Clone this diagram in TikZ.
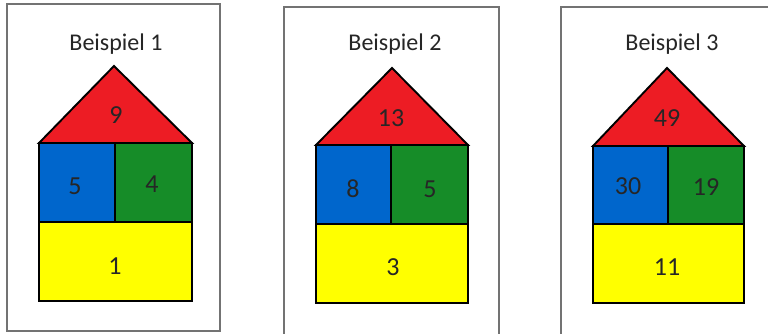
\documentclass[tikz,border=0pt]{standalone}
\usepackage{fontspec}
\setmainfont{Carlito}
\definecolor{roofred}{RGB}{237,28,36}
\definecolor{wallblue}{RGB}{0,102,204}
\definecolor{wallgreen}{RGB}{22,140,40}
\definecolor{floory}{RGB}{255,255,0}
\begin{document}
\begin{tikzpicture}[x=1pt,y=1pt,
	card/.style={draw=gray!90!black,line width=1.3pt},
	part/.style={draw=black,line width=1.9pt,line join=miter},
	title/.style={font=\fontsize{24}{28}\selectfont,text=black!85},
	num/.style={font=\fontsize{26}{30}\selectfont,text=black!85}]
		\useasboundingbox (0,0) rectangle (768,334);
		\clip (0,0) rectangle (768,334);
		\fill[white] (0,0) rectangle (768,334);
		
		% Beispiel 1
		\draw[card] (7,330) rectangle (220,3);
		\filldraw[part,fill=roofred] (39,191) -- (114,268) -- (192,191) -- cycle;
		\filldraw[part,fill=wallblue] (39,191) rectangle (115,112);
		\filldraw[part,fill=wallgreen] (115,191) rectangle (192,112);
		\filldraw[part,fill=floory] (39,112) rectangle (192,33);
		\node[title] (title1) at (116,290) {Beispiel 1};
		\node[num] (roof1) at (116,219) {9};
		\node[num] (left1) at (75,148) {5};
		\node[num] (right1) at (152,150) {4};
		\node[num] (floor1) at (115,68) {1};
		
		% Beispiel 2
		\draw[card] (284,327) rectangle (499,-2);
		\filldraw[part,fill=roofred] (316,189) -- (392,266) -- (468,189) -- cycle;
		\filldraw[part,fill=wallblue] (316,189) rectangle (391,110);
		\filldraw[part,fill=wallgreen] (391,189) rectangle (468,110);
		\filldraw[part,fill=floory] (316,110) rectangle (468,31);
		\node[title] (title2) at (395,290) {Beispiel 2};
		\node[num] (roof2) at (391,216) {13};
		\node[num] (left2) at (353,145) {8};
		\node[num] (right2) at (430,145) {5};
		\node[num] (floor2) at (393,67) {3};
		
		% Beispiel 3
		\draw[card] (561,327) rectangle (780,-2);
		\filldraw[part,fill=roofred] (593,188) -- (667,266) -- (744,188) -- cycle;
		\filldraw[part,fill=wallblue] (593,188) rectangle (668,110);
		\filldraw[part,fill=wallgreen] (668,188) rectangle (744,110);
		\filldraw[part,fill=floory] (593,110) rectangle (744,31);
		\node[title] (title3) at (672,290) {Beispiel 3};
		\node[num] (roof3) at (667,216) {49};
		\node[num] (left3) at (628,148) {30};
		\node[num] (right3) at (706,147) {19};
		\node[num] (floor3) at (667,67) {11};
	\end{tikzpicture}
\end{document}
